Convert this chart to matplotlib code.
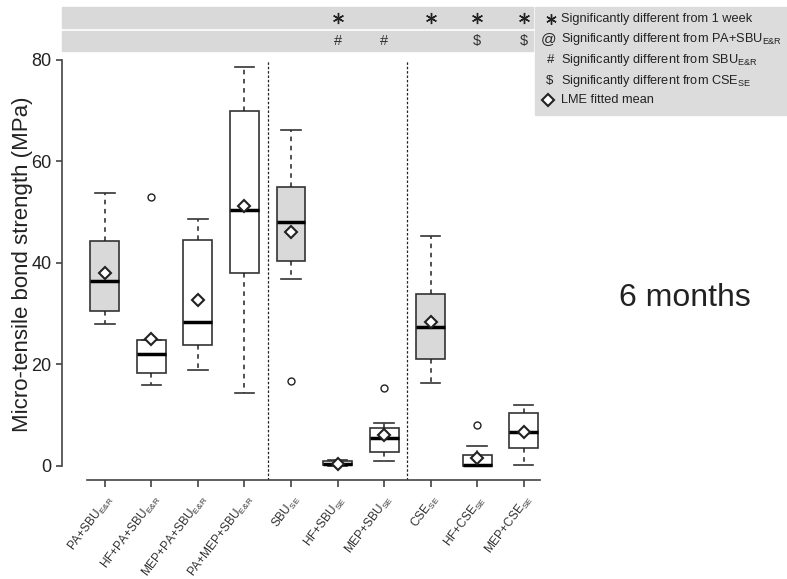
import matplotlib
matplotlib.use("Agg")
import matplotlib.pyplot as plt
import matplotlib.transforms as mtransforms
from matplotlib.mathtext import MathTextParser
from matplotlib.patches import Rectangle

plt.rcParams["font.family"] = ["Liberation Sans", "DejaVu Sans"]
plt.rcParams["mathtext.fontset"] = "custom"
plt.rcParams["mathtext.rm"] = "Liberation Sans"
plt.rcParams["mathtext.it"] = "Liberation Sans"


def sub_er():
    # pick a mathtext spelling of the E&R subscript that this matplotlib accepts
    parser = MathTextParser("path")
    for s in [r"$_{\mathrm{E\&R}}$", r"$_{\mathrm{E&R}}$", r"$_{\mathrm{E}\&\mathrm{R}}$",
              r"$_{E\&R}$", r"$_{E&R}$"]:
        try:
            parser.parse(s)
            return s
        except Exception:
            continue
    return "$_{ER}$"


ER = sub_er()
SE = r"$_{\mathrm{SE}}$"

# ── Data (MPa) ───────────────────────────────────────────────────────────────
groups = ["PA+SBU" + ER, "HF+PA+SBU" + ER, "MEP+PA+SBU" + ER, "PA+MEP+SBU" + ER,
          "SBU" + SE, "HF+SBU" + SE, "MEP+SBU" + SE, "CSE" + SE,
          "HF+CSE" + SE, "MEP+CSE" + SE]
whis_lo = [28.0, 15.9, 18.9, 14.3, 36.9, 0.0, 1.05, 16.3, 0.0, 0.2]
q1      = [30.6, 18.4, 23.8, 38.1, 40.3, 0.1, 2.7, 21.0, 0.05, 3.5]
median  = [36.5, 22.0, 28.4, 50.4, 48.0, 0.35, 5.5, 27.3, 0.15, 6.6]
q3      = [44.3, 24.9, 44.5, 69.9, 54.9, 0.9, 7.5, 33.9, 2.2, 10.5]
whis_hi = [53.7, 24.9, 48.6, 78.7, 66.3, 1.2, 8.5, 45.3, 4.0, 12.0]
outliers = [[], [53.0], [], [], [16.8], [], [15.3], [], [8.1], []]
lme_mean = [38.1, 25.1, 32.7, 51.2, 46.2, 0.3, 6.1, 28.3, 1.6, 6.6]
control  = [True, False, False, False, True, False, False, True, False, False]

sig_week = [5, 7, 8, 9]          # * different from 1 week
sig_sbu  = [5, 6]                # # different from SBU E&R
sig_cse  = [8, 9]                # $ different from CSE SE
separators = [3.5, 6.5]

fig = plt.figure(figsize=(7.87, 5.79), dpi=100)
ax = fig.add_axes([62/787, 1 - 480/579, 478/787, 420/579])
ax.patch.set_visible(False)

stats = []
for i in range(len(groups)):
    stats.append(dict(med=median[i], q1=q1[i], q3=q3[i], whislo=whis_lo[i],
                      whishi=whis_hi[i], fliers=outliers[i]))
pos = list(range(len(groups)))
bp = ax.bxp(stats, positions=pos, widths=0.62, capwidths=0.42, patch_artist=True,
            showfliers=True,
            boxprops=dict(edgecolor="#333333", linewidth=1.2),
            medianprops=dict(color="black", linewidth=2.5),
            whiskerprops=dict(color="#222222", linewidth=1.1, linestyle=(0, (3, 3))),
            capprops=dict(color="#333333", linewidth=1.2),
            flierprops=dict(marker="o", markersize=5, markerfacecolor="white",
                            markeredgecolor="#222222", markeredgewidth=1.0))
for patch, c in zip(bp["boxes"], control):
    patch.set_facecolor("#d9d9d9" if c else "white")

ax.plot(pos, lme_mean, linestyle="none", marker="D", markersize=6.5,
        markerfacecolor="white", markeredgecolor="#222222", markeredgewidth=1.5,
        zorder=5)

for s in separators:
    ax.axvline(s, color="#222222", linewidth=0.9, linestyle=(0, (2, 1.5)))

ax.set_xlim(-0.92, 9.35)
ax.set_ylim(-2.76, 80)
ax.set_yticks([0, 20, 40, 60, 80])
ax.set_xticks(pos)
ax.set_xticklabels(groups, rotation=53, ha="right", rotation_mode="anchor",
                   fontsize=8.6, color="#333333")
ax.tick_params(axis="y", labelsize=13, length=4, width=1.1, color="#333333",
               labelcolor="#222222")
ax.tick_params(axis="x", length=5, width=1.1, color="#333333", pad=4)
for side in ["top", "right"]:
    ax.spines[side].set_visible(False)
ax.spines["left"].set_bounds(0, 80)
ax.spines["bottom"].set_bounds(-0.39, 9.35)
for side in ["left", "bottom"]:
    ax.spines[side].set_color("#444444")
    ax.spines[side].set_linewidth(1.2)
ax.set_ylabel("Micro-tensile bond strength (MPa)", fontsize=16, color="#222222")
ax.yaxis.set_label_coords(-0.061, 0.514)

# ── Significance bands above the plot ────────────────────────────────────────
fig.patches.append(Rectangle((62/787, 1 - 28/579), 471/787, 21/579,
                             transform=fig.transFigure, color="#d9d9d9", zorder=-1))
fig.patches.append(Rectangle((62/787, 1 - 51/579), 471/787, 20/579,
                             transform=fig.transFigure, color="#d9d9d9", zorder=-1))
blend = mtransforms.blended_transform_factory(ax.transData, fig.transFigure)
for i in sig_week:
    ax.plot(i, 1 - 17.5/579, marker=(6, 2, 0), markersize=8, color="#222222",
            markeredgewidth=1.0, transform=blend, clip_on=False)
for i in sig_sbu:
    ax.text(i, 1 - 41/579, "#", transform=blend, ha="center", va="center",
            fontsize=10.5, color="#333333")
for i in sig_cse:
    ax.text(i, 1 - 41/579, r"\$", transform=blend, ha="center", va="center",
            fontsize=10.5, color="#333333")

# ── Key ──────────────────────────────────────────────────────────────────────
fig.patches.append(Rectangle((535/787, 1 - 115/579), 252/787, 108/579,
                             transform=fig.transFigure, color="#dcdcdc", zorder=-1))
key_text = ["Significantly different from 1 week",
            "Significantly different from PA+SBU" + ER,
            "Significantly different from SBU" + ER,
            "Significantly different from CSE" + SE,
            "LME fitted mean"]
key_y = [19, 39, 60, 81, 100]
for t, y in zip(key_text, key_y):
    fig.text(561/787, 1 - y/579, t, ha="left", va="center", fontsize=9.2,
             color="#222222")
fig.lines.append(plt.Line2D([551/787], [1 - 19/579], marker=(6, 2, 0), markersize=7.5,
                            color="#222222", markeredgewidth=1.0,
                            transform=fig.transFigure))
fig.text(549/787, 1 - 39/579, "@", ha="center", va="center", fontsize=11, color="#222222")
fig.text(551/787, 1 - 60/579, "#", ha="center", va="center", fontsize=9.5, color="#222222")
fig.text(550/787, 1 - 81/579, r"\$", ha="center", va="center", fontsize=9.5, color="#222222")
fig.lines.append(plt.Line2D([548/787], [1 - 100/579], marker="D", markersize=6.5,
                            markerfacecolor="white", markeredgecolor="#222222",
                            markeredgewidth=1.5, transform=fig.transFigure))

fig.text(685/787, 1 - 298/579, "6 months", ha="center", va="center", fontsize=23,
         color="#222222")

fig.savefig("out.png", dpi=100)
